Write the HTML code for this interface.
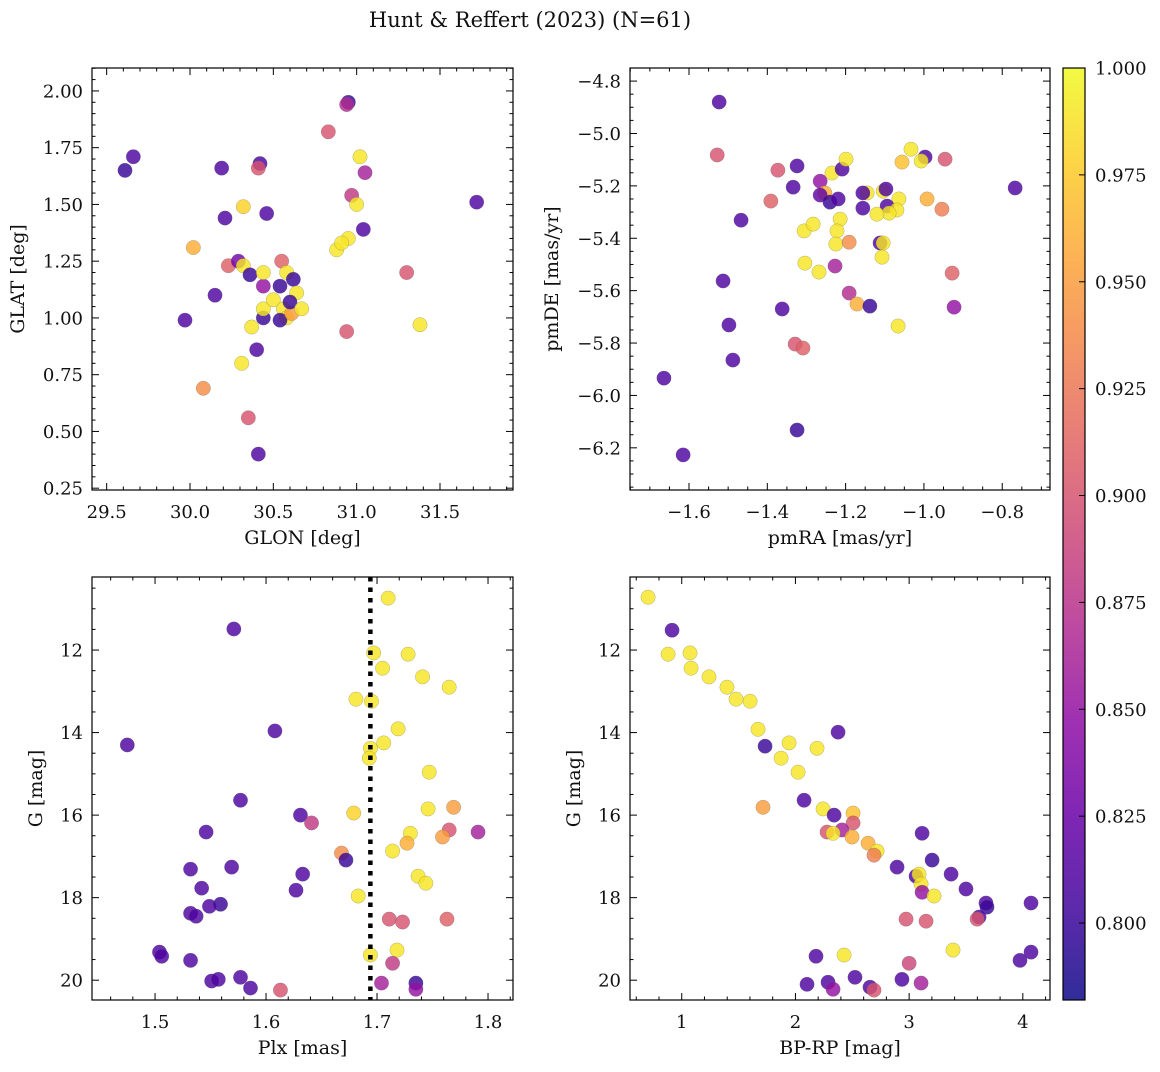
<!DOCTYPE html>
<html><head><meta charset="utf-8"><style>
body{margin:0;background:#fff;}
svg text{font-family:"DejaVu Serif","Liberation Serif",serif;fill:#111;}
</style></head><body>
<svg id="fig" width="1160" height="1067" viewBox="0 0 1160 1067" xmlns="http://www.w3.org/2000/svg">
<defs>
<linearGradient id="plasma" x1="0" y1="1" x2="0" y2="0">
<stop offset="0" stop-color="#0d0887"/><stop offset="0.1" stop-color="#41049d"/><stop offset="0.2" stop-color="#6a00a8"/><stop offset="0.3" stop-color="#8f0da4"/><stop offset="0.4" stop-color="#b12a90"/><stop offset="0.5" stop-color="#cc4778"/><stop offset="0.6" stop-color="#e16462"/><stop offset="0.7" stop-color="#f2844b"/><stop offset="0.8" stop-color="#fca636"/><stop offset="0.9" stop-color="#fcce25"/><stop offset="1" stop-color="#f0f921"/>
</linearGradient>
</defs>
<text x="530" y="27" font-size="21" text-anchor="middle">Hunt &amp; Reffert (2023) (N=61)</text>
</svg>
<script>
// Panel 1: GLON / GLAT / membership probability
const p1Glon=[29.61,29.66,29.97,30.02,30.08,30.15,30.19,30.21,30.23,30.29,30.32,30.32,30.31,30.35,30.37,30.36,30.40,30.41,30.42,30.41,30.44,30.44,30.46,30.44,30.44,30.50,30.55,30.54,30.58,30.62,30.64,30.56,30.58,30.54,30.61,30.60,30.67,30.83,30.95,30.94,31.02,30.97,31.00,31.05,31.04,30.95,30.88,30.91,30.94,31.30,31.38,31.72];
const p1Glat=[1.65,1.71,0.99,1.31,0.69,1.10,1.66,1.44,1.23,1.25,1.49,1.23,0.80,0.56,0.96,1.19,0.86,0.40,1.68,1.66,1.14,1.20,1.46,1.00,1.04,1.08,1.25,1.14,1.20,1.17,1.11,1.04,1.00,0.99,1.02,1.07,1.04,1.82,1.95,1.94,1.71,1.54,1.50,1.64,1.39,1.35,1.30,1.33,0.94,1.20,0.97,1.51];
const p1Prob=[.80,.81,.81,.96,.94,.81,.81,.81,.91,.83,.98,.99,.99,.90,.99,.80,.81,.81,.81,.90,.85,.99,.81,.80,.99,.99,.91,.80,.99,.80,.99,.99,.99,.80,.95,.80,.99,.90,.80,.87,.99,.88,.99,.86,.81,.99,.99,.99,.90,.90,.99,.81];
// Panel 2: pmRA / pmDE
const p2PmRA=[-1.373,-1.324,-1.334,-1.391,-1.265,-1.235,-1.209,-1.199,-1.253,-1.265,-1.240,-1.219,-1.145,-1.156,-1.156,-1.104,-1.097,-1.064,-1.094,-1.069,-1.089,-1.120,-1.033,-1.056,-0.997,-1.007,-0.946,-0.992,-0.954,-1.306,-1.283,-1.214,-1.222,-1.225,-1.191,-1.112,-1.104,-1.107,-1.304,-1.268,-1.227,-1.191,-1.171,-1.138,-1.362,-1.066,-0.923,-0.928,-1.329,-1.309,-1.523,-1.467,-1.513,-1.498,-1.488,-1.664,-1.615,-1.528,-1.324,-0.767];
const p2PmDE=[-5.140,-5.124,-5.205,-5.258,-5.182,-5.151,-5.136,-5.098,-5.227,-5.235,-5.262,-5.250,-5.227,-5.227,-5.285,-5.220,-5.212,-5.250,-5.277,-5.292,-5.304,-5.308,-5.060,-5.109,-5.090,-5.105,-5.098,-5.250,-5.289,-5.372,-5.346,-5.327,-5.372,-5.422,-5.415,-5.418,-5.418,-5.472,-5.495,-5.529,-5.506,-5.609,-5.651,-5.659,-5.670,-5.735,-5.663,-5.533,-5.804,-5.819,-4.880,-5.331,-5.563,-5.731,-5.865,-5.934,-6.227,-5.082,-6.132,-5.208];
const p2Prob=[.90,.81,.81,.91,.85,.99,.81,.99,.96,.82,.80,.81,.99,.81,.81,.99,.81,.99,.81,.99,.99,.99,.99,.97,.81,.99,.90,.96,.93,.99,.99,.99,.99,.99,.94,.81,.99,.99,.99,.99,.86,.87,.96,.80,.81,.99,.85,.91,.90,.91,.81,.81,.81,.81,.81,.81,.81,.90,.80,.81];
// Panel 3: Plx / G
const p3Plx=[1.710,1.697,1.728,1.705,1.741,1.765,1.681,1.695,1.719,1.706,1.694,1.693,1.747,1.679,1.746,1.769,1.730,1.765,1.759,1.791,1.727,1.714,1.668,1.672,1.737,1.744,1.683,1.711,1.723,1.763,1.694,1.718,1.714,1.704,1.735,1.735,1.475,1.571,1.608,1.577,1.546,1.631,1.641,1.532,1.569,1.532,1.542,1.559,1.549,1.537,1.627,1.633,1.504,1.506,1.532,1.577,1.551,1.557,1.586,1.613];
const p3G=[10.74,12.07,12.10,12.44,12.65,12.90,13.19,13.24,13.91,14.25,14.38,14.62,14.96,15.95,15.85,15.81,16.44,16.36,16.53,16.41,16.68,16.87,16.92,17.09,17.48,17.65,17.96,18.52,18.59,18.52,19.39,19.27,19.59,20.07,20.07,20.22,14.30,11.49,13.96,15.64,16.41,16.00,16.19,17.31,17.26,18.38,17.77,18.16,18.21,18.45,17.82,17.43,19.32,19.42,19.52,19.93,20.02,19.98,20.19,20.24];
const p3Prob=[.99,.99,.99,.99,.99,.99,.99,.99,.99,.99,.99,.99,.99,.98,.99,.95,.99,.90,.95,.86,.96,.99,.94,.80,.99,.99,.99,.90,.90,.91,.99,.99,.88,.86,.80,.85,.81,.81,.81,.81,.81,.81,.88,.81,.81,.81,.81,.80,.81,.81,.81,.81,.81,.81,.81,.81,.81,.81,.81,.90];
const plxCut=1.694;
// Panel 4: BP-RP / G
const p4Col=[0.704,0.915,0.880,1.073,1.082,1.240,1.398,1.478,1.601,1.671,1.733,1.944,1.874,2.023,2.190,2.375,1.715,2.076,2.243,2.340,2.507,2.278,2.507,2.410,2.331,2.498,2.639,2.718,2.691,2.894,3.114,3.202,3.061,3.087,3.105,3.114,3.219,3.369,3.500,3.676,3.685,3.615,3.598,4.072,2.973,3.149,3.386,3.000,4.072,3.975,2.181,2.428,2.102,2.287,2.331,2.524,2.656,2.691,2.937,3.105];
const p4G=[10.72,11.52,12.10,12.07,12.44,12.65,12.90,13.19,13.24,13.92,14.33,14.25,14.62,14.96,14.38,13.99,15.81,15.64,15.85,16.00,15.95,16.41,16.19,16.36,16.44,16.53,16.68,16.87,16.97,17.26,16.44,17.09,17.48,17.43,17.67,17.87,17.96,17.43,17.79,18.13,18.23,18.47,18.52,18.13,18.52,18.57,19.27,19.59,19.32,19.52,19.42,19.39,20.10,20.05,20.22,19.93,20.17,20.24,19.98,20.07];
const p4Prob=[.99,.81,.99,.99,.99,.99,.99,.99,.99,.99,.80,.99,.99,.99,.99,.81,.95,.81,.99,.81,.97,.90,.90,.86,.99,.96,.96,.99,.93,.81,.81,.80,.81,.99,.99,.85,.99,.81,.81,.81,.80,.81,.90,.81,.90,.90,.99,.89,.81,.81,.81,.99,.81,.81,.85,.81,.81,.90,.81,.86];
const cbTicks=[0.800,0.825,0.850,0.875,0.900,0.925,0.950,0.975,1.000];
const CMIN=0.782, CMAX=1.0;

const NS="http://www.w3.org/2000/svg";
const svg=document.getElementById('fig');
const stops=[[13,8,135],[65,4,157],[106,0,168],[143,13,164],[177,42,144],[204,71,120],[225,100,98],[242,132,75],[252,166,54],[252,206,37],[240,249,33]];
function cmap(p){let t=(p-CMIN)/(CMAX-CMIN);t=Math.max(0,Math.min(1,t))*10;const i=Math.min(9,Math.floor(t)),f=t-i;const a=stops[i],b=stops[i+1];return `rgb(${a.map((v,k)=>Math.round(v+(b[k]-v)*f)).join(',')})`;}
function el(tag,attrs,parent){const e=document.createElementNS(NS,tag);for(const k in attrs)e.setAttribute(k,attrs[k]);(parent||svg).appendChild(e);return e;}
function fmt(v,d){return v.toFixed(d).replace('-','\u2212');}
const TF=18, AF=19;

function panel(cfg){
  const g=el('g',{});
  
  
  const {L,T,R,B}=cfg;
  const sx=v=>L+(v-cfg.x0)/(cfg.x1-cfg.x0)*(R-L);
  const sy=v=>cfg.inv? T+(v-cfg.y0)/(cfg.y1-cfg.y0)*(B-T) : B-(v-cfg.y0)/(cfg.y1-cfg.y0)*(B-T);
  const pg=el('g',{},g);
  
  
  for(let i=0;i<cfg.xs.length;i++){
    const c=el('circle',{cx:sx(cfg.xs[i]),cy:sy(cfg.ys[i]),r:7.2,fill:cmap(cfg.ps[i]),'fill-opacity':0.82,stroke:'#666','stroke-width':0.4,'stroke-opacity':0.6},pg);
    
    
  }
  if(cfg.vline!==undefined){
    const l=el('line',{x1:sx(cfg.vline),x2:sx(cfg.vline),y1:T,y2:B,stroke:'#000','stroke-width':4.5,'stroke-dasharray':'4.5,6'},g);
    
    
  }
  const fr=el('rect',{x:L,y:T,width:R-L,height:B-T,fill:'none',stroke:'#000','stroke-width':1.2},g);
  
  
  const xa=el('g',{},g);
  
  
  for(let v=Math.ceil(cfg.x0/cfg.xmin-1e-9)*cfg.xmin;v<=cfg.x1+1e-9;v+=cfg.xmin){
    const x=sx(v);const maj=Math.abs(v/cfg.xmaj-Math.round(v/cfg.xmaj))<1e-6;const len=maj?7:3.5;
    el('line',{x1:x,x2:x,y1:B,y2:B-len,stroke:'#000','stroke-width':1},xa);
    el('line',{x1:x,x2:x,y1:T,y2:T+len,stroke:'#000','stroke-width':1},xa);
    if(maj){const t=el('text',{x:x,y:B+28,'font-size':TF,'text-anchor':'middle'},xa);t.textContent=fmt(v,cfg.xd);}
  }
  const ya=el('g',{},g);
  
  
  const lo=Math.min(cfg.y0,cfg.y1),hi=Math.max(cfg.y0,cfg.y1);
  for(let v=Math.ceil(lo/cfg.ymin-1e-9)*cfg.ymin;v<=hi+1e-9;v+=cfg.ymin){
    const y=sy(v);const maj=Math.abs(v/cfg.ymaj-Math.round(v/cfg.ymaj))<1e-6;const len=maj?7:3.5;
    el('line',{x1:L,x2:L+len,y1:y,y2:y,stroke:'#000','stroke-width':1},ya);
    el('line',{x1:R,x2:R-len,y1:y,y2:y,stroke:'#000','stroke-width':1},ya);
    if(maj){const t=el('text',{x:L-9,y:y+6.5,'font-size':TF,'text-anchor':'end'},ya);t.textContent=fmt(v,cfg.yd);}
  }
  const xt=el('text',{x:(L+R)/2,y:B+54,'font-size':AF,'text-anchor':'middle'},g);
  xt.textContent=cfg.xtitle;
  
  
  const yx=cfg.ytx, yy=(T+B)/2;
  const yt=el('text',{x:yx,y:yy,'font-size':AF,'text-anchor':'middle',transform:`rotate(-90 ${yx} ${yy})`},g);
  yt.textContent=cfg.ytitle;
  
  
}

panel({name:'glon-glat-panel',L:92,T:68,R:513,B:490,x0:29.412,x1:31.938,y0:0.242,y1:2.101,xmaj:0.5,xmin:0.1,ymaj:0.25,ymin:0.05,xd:1,yd:2,xs:p1Glon,ys:p1Glat,ps:p1Prob,xtitle:'GLON [deg]',ytitle:'GLAT [deg]',ytx:24});
panel({name:'proper-motion-panel',L:630,T:68,R:1050,B:490,x0:-1.7507,x1:-0.678,y0:-6.361,y1:-4.750,xmaj:0.2,xmin:0.05,ymaj:0.2,ymin:0.05,xd:1,yd:1,xs:p2PmRA,ys:p2PmDE,ps:p2Prob,xtitle:'pmRA [mas/yr]',ytitle:'pmDE [mas/yr]',ytx:558});
panel({name:'plx-g-panel',L:92,T:577,R:513,B:1000,x0:1.4432,x1:1.8225,y0:10.23,y1:20.48,inv:true,xmaj:0.1,xmin:0.02,ymaj:2,ymin:0.5,xd:1,yd:0,xs:p3Plx,ys:p3G,ps:p3Prob,xtitle:'Plx [mas]',ytitle:'G [mag]',ytx:42,vline:plxCut});
panel({name:'cmd-panel',L:630,T:577,R:1050,B:1000,x0:0.545,x1:4.239,y0:10.23,y1:20.48,inv:true,xmaj:1,xmin:0.2,ymaj:2,ymin:0.5,xd:0,yd:0,xs:p4Col,ys:p4G,ps:p4Prob,xtitle:'BP-RP [mag]',ytitle:'G [mag]',ytx:580});

const cb=el('g',{});


const cT=68,cB=1000,cL=1063,cR=1085;
el('rect',{x:cL,y:cT,width:cR-cL,height:cB-cT,fill:'url(#plasma)','fill-opacity':0.85},cb);
el('rect',{x:cL,y:cT,width:cR-cL,height:cB-cT,fill:'none',stroke:'#000','stroke-width':1.2},cb);
const cy=v=>cB-(v-CMIN)/(CMAX-CMIN)*(cB-cT);
cbTicks.forEach(v=>{const y=cy(v);el('line',{x1:cR,x2:cR-6,y1:y,y2:y,stroke:'#000','stroke-width':1},cb);const t=el('text',{x:cR+10,y:y+6.5,'font-size':TF},cb);t.textContent=v.toFixed(3);});
</script>
</body></html>
